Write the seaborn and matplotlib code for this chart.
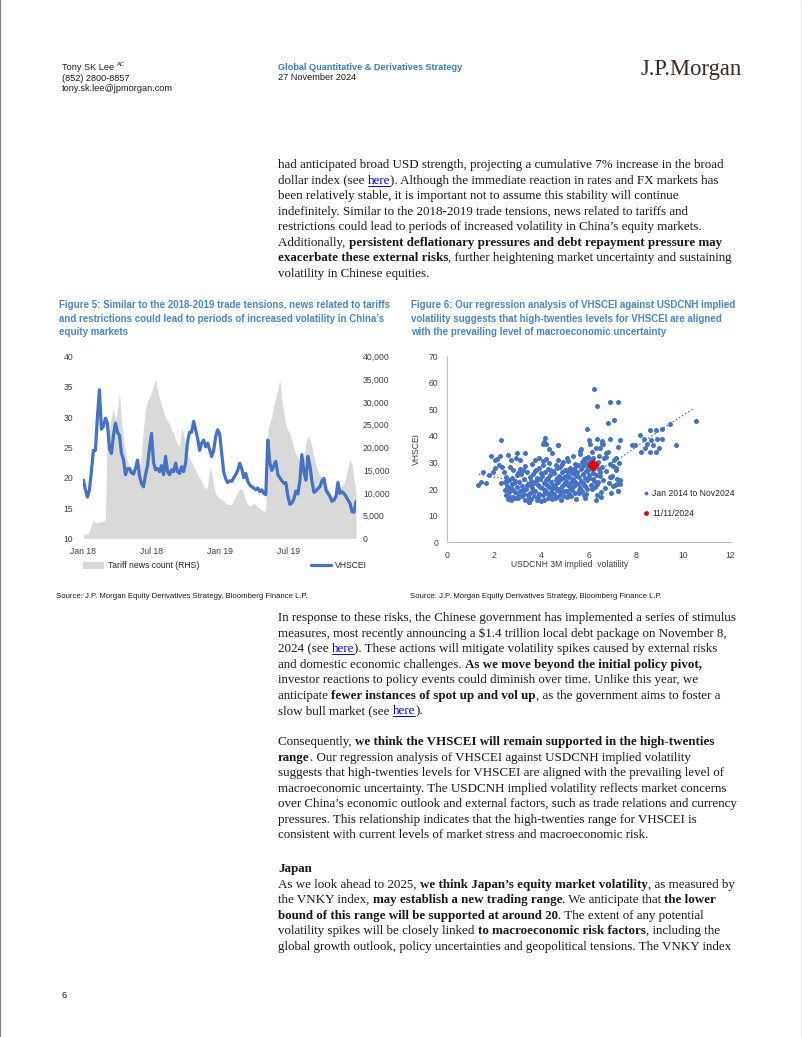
import matplotlib
matplotlib.use("Agg")
import matplotlib.pyplot as plt
import matplotlib.dates as mdates
import matplotlib.ticker as mticker
from matplotlib import font_manager
from matplotlib.lines import Line2D
from matplotlib.patches import Patch
import pandas as pd
import seaborn as sns

# ---------------- Figure 5 data ----------------
vhscei_daily = [19.6, 18.0, 16.8, 18.0, 21.0, 24.5, 24.5, 30.0, 34.5, 28.0, 28.5, 29.8, 29.0, 24.8,
                24.0, 27.0, 29.0, 27.5, 27.0, 24.0, 23.0, 20.5, 21.5, 21.5, 20.8, 20.6, 21.5, 22.9,
                20.3, 19.0, 18.5, 20.5, 22.0, 25.0, 27.3, 22.5, 21.3, 21.5, 21.0, 22.0, 20.5, 23.5,
                21.0, 20.5, 21.3, 21.0, 22.4, 21.0, 20.7, 21.8, 21.0, 22.5, 26.0, 27.5, 27.5, 29.3,
                27.9, 26.5, 24.5, 25.7, 26.2, 25.1, 25.7, 24.6, 23.5, 24.5, 26.8, 27.9, 27.2, 24.0,
                21.0, 19.8, 19.2, 19.5, 19.4, 20.0, 20.5, 21.2, 22.4, 21.5, 20.0, 20.7, 19.4, 18.8,
                18.5, 18.3, 18.0, 18.3, 17.7, 18.0, 17.4, 17.2, 26.2, 22.5, 21.2, 22.0, 22.7, 20.5,
                20.0, 19.5, 19.1, 19.2, 17.0, 15.6, 15.8, 16.5, 17.8, 17.3, 19.5, 23.8, 21.0, 19.6,
                23.5, 22.0, 19.5, 17.6, 17.8, 18.2, 18.5, 19.5, 19.9, 18.0, 17.4, 16.9, 16.1, 16.3,
                16.9, 19.2, 17.4, 17.7, 17.4, 16.9, 16.3, 15.8, 14.4, 14.3, 16.1]

tariff_news = [700, 900, 1000, 1500, 3000, 4000, 3500, 3300, 3600, 3700, 3700, 4000, 25000, 23500,
               27000, 28300, 26000, 28300, 32000, 26000, 21500, 19000, 17000, 16000, 15500, 15000,
               14800, 14800, 15500, 18500, 24500, 28500, 30300, 31000, 32300, 33500, 35000, 32300,
               30800, 29300, 27800, 26500, 25900, 25000, 23700, 23200, 21700, 20600, 20200, 24500,
               23000, 20000, 18500, 17500, 16800, 15800, 15000, 14000, 13200, 12500, 11400, 10700,
               11500, 15500, 14500, 11500, 9900, 9200, 8700, 8500, 8200, 7700, 7500, 7400, 7600,
               8300, 9200, 10200, 10800, 11000, 9700, 8400, 7500, 7100, 7300, 7700, 7400, 6800,
               6500, 6200, 5900, 6300, 23900, 25400, 26800, 29000, 31200, 32700, 35000, 30500,
               27500, 25000, 23800, 23000, 21500, 19800, 18500, 17800, 17000, 16300, 18000, 21000,
               22400, 21700, 20200, 18000, 15800, 14700, 13900, 13300, 12900, 12000, 11100, 10200,
               9400, 8800, 9800, 11000, 11200, 11600, 12100, 13500, 15500, 17500, 16000, 13000,
               10000]

fig5_xticks = ["2018-01-01", "2018-07-01", "2019-01-01", "2019-07-01"]

# ---------------- Figure 6 data ----------------
usdcnh_vol = [
    1.33, 1.47, 1.52, 1.68, 1.79, 1.86, 2.03, 2.13, 2.31, 2.24, 2.21, 2.35, 2.04, 1.96, 2.41, 2.52,
    2.45, 2.31, 2.59, 2.73, 2.95, 2.92, 3.09, 3.30, 2.66, 2.80, 3.02, 3.23, 3.48, 4.14, 4.07, 4.21, 4.71,
    2.45, 2.50, 2.55, 2.60, 2.62, 2.65, 2.70, 2.72, 2.75, 2.80, 2.85, 2.88, 2.90, 2.95, 3.00,
    2.52, 2.58, 2.66, 2.74, 2.82, 2.90, 2.98,
    3.02, 3.05, 3.10, 3.12, 3.18, 3.20, 3.25, 3.28, 3.30, 3.35, 3.38, 3.42, 3.45, 3.48, 3.50,
    3.08, 3.22, 3.32, 3.40, 3.46,
    3.52, 3.55, 3.58, 3.60, 3.62, 3.65, 3.68, 3.70, 3.72, 3.75, 3.78, 3.80, 3.82, 3.85, 3.88,
    3.90, 3.92, 3.95, 3.98, 4.00, 3.56, 3.64, 3.71, 3.79, 3.86, 3.94,
    4.02, 4.04, 4.06, 4.08, 4.10, 4.12, 4.14, 4.16, 4.18, 4.20, 4.22, 4.24, 4.26, 4.28, 4.30,
    4.32, 4.34, 4.36, 4.38, 4.40, 4.42, 4.44, 4.46, 4.48, 4.50, 4.05, 4.15, 4.25, 4.35, 4.45,
    4.11, 4.31,
    4.52, 4.54, 4.56, 4.58, 4.60, 4.62, 4.64, 4.66, 4.68, 4.70, 4.72, 4.74, 4.76, 4.78, 4.80,
    4.82, 4.84, 4.86, 4.88, 4.90, 4.92, 4.94, 4.96, 4.98, 5.00, 4.57, 4.67, 4.77, 4.87, 4.97, 4.71,
    5.02, 5.04, 5.06, 5.08, 5.10, 5.12, 5.14, 5.16, 5.18, 5.20, 5.22, 5.24, 5.26, 5.28, 5.30,
    5.32, 5.34, 5.36, 5.38, 5.40, 5.42, 5.44, 5.46, 5.48, 5.50, 5.07, 5.17, 5.27, 5.37, 5.47,
    5.52, 5.54, 5.56, 5.58, 5.60, 5.62, 5.64, 5.66, 5.68, 5.70, 5.72, 5.74, 5.76, 5.78, 5.80,
    5.82, 5.84, 5.86, 5.88, 5.90, 5.92, 5.94, 5.96, 5.98, 6.00, 5.57, 5.67, 5.77, 5.87, 5.97,
    5.63, 5.85,
    6.02, 6.05, 6.08, 6.10, 6.12, 6.15, 6.18, 6.20, 6.22, 6.25, 6.28, 6.30, 6.32, 6.35, 6.38,
    6.40, 6.42, 6.45, 6.48, 6.50, 6.07, 6.17, 6.27, 6.37, 6.47,
    6.55, 6.60, 6.65, 6.70, 6.75, 6.80, 6.85, 6.90, 6.95, 7.00, 7.05, 7.10, 7.15, 7.20, 7.25,
    6.58, 6.72, 6.88, 7.02, 7.18,
    6.22, 6.33, 6.89, 7.22, 7.06, 6.82, 10.52, 9.43, 9.68, 5.93, 7.84, 8.16, 8.58, 8.84, 9.08,
    8.33, 8.65, 8.89, 9.09, 8.47, 8.72, 8.98, 8.36, 8.58, 8.84, 8.19, 7.96, 6.92, 7.32, 7.24,
    7.15, 7.29, 7.17, 7.32, 7.34, 7.24, 7.03, 6.96, 6.75, 6.61, 6.47, 6.30, 6.54, 6.02, 5.88,
    6.35, 6.56,
]
vhscei_level = [
    21.6, 22.8, 26.5, 22.2, 25.3, 32.4, 30.9, 31.3, 38.3, 32.4, 29.0, 28.4, 27.8, 26.5, 26.5, 24.7,
    22.8, 22.2, 32.8, 30.9, 33.6, 31.5, 30.9, 33.4, 28.4, 27.2, 26.0, 27.2, 15.0, 39.3, 37.1, 37.1, 36.5,
    19.5, 17.8, 21.2, 16.3, 23.5, 18.9, 15.8, 20.4, 24.1, 17.1, 22.3, 19.0, 16.5, 25.2, 18.2,
    22.8, 20.1, 17.2, 21.9, 19.6, 23.1, 20.8,
    16.8, 22.6, 19.4, 25.8, 17.5, 21.0, 23.9, 18.3, 15.9, 20.2, 26.4, 17.9, 22.0, 15.1, 24.5,
    27.5, 19.8, 28.6, 21.5, 16.6,
    18.6, 23.1, 16.2, 29.4, 20.5, 25.7, 17.4, 22.2, 30.8, 19.1, 27.0, 16.0, 24.3, 21.4, 28.1,
    18.0, 31.5, 23.6, 15.7, 26.2, 21.0, 19.3, 26.8, 22.9, 17.0, 20.7,
    20.3, 24.8, 17.6, 28.9, 22.1, 15.8, 26.5, 19.7, 31.2, 23.3, 18.4, 21.7, 27.6, 16.5, 24.0,
    29.8, 20.9, 17.3, 25.4, 22.6, 19.0, 33.5, 16.2, 26.9, 21.3, 30.4, 18.9, 23.8, 27.2, 20.0,
    37.6, 35.2,
    18.1, 25.9, 21.4, 16.7, 29.1, 23.5, 19.6, 27.8, 17.2, 22.7, 31.0, 20.1, 25.0, 18.8, 28.4,
    16.0, 23.9, 21.1, 26.6, 19.3, 30.2, 24.6, 17.5, 22.4, 27.1, 20.6, 24.3, 17.9, 29.6, 21.8, 36.5,
    23.0, 19.4, 27.3, 16.9, 25.1, 21.6, 30.5, 18.2, 24.4, 28.0, 20.0, 22.8, 17.3, 26.1, 19.8,
    32.6, 23.7, 21.0, 27.7, 18.6, 25.5, 29.3, 16.4, 22.2, 24.9, 31.8, 26.8, 20.7, 23.2, 28.7,
    26.3, 21.9, 29.0, 18.5, 24.7, 33.1, 20.4, 27.5, 23.0, 30.2, 19.1, 25.8, 22.3, 28.6, 17.6,
    31.4, 24.1, 21.2, 26.9, 29.8, 20.0, 23.5, 32.0, 27.2, 25.3, 19.7, 35.0, 22.0, 18.0, 28.3,
    34.2, 16.8,
    24.2, 30.6, 21.5, 27.9, 33.8, 19.9, 26.0, 31.7, 23.1, 28.8, 20.6, 35.6, 25.2, 17.8, 30.1,
    22.7, 27.4, 32.3, 24.9, 19.0, 36.9, 23.6, 29.4, 21.9, 26.5,
    28.2, 23.4, 31.6, 20.5, 26.7, 33.9, 22.1, 29.3, 18.7, 25.0, 30.8, 21.6, 27.3, 23.8, 19.4,
    36.8, 32.0, 24.4, 28.6, 21.9,
    57.6, 51.1, 52.6, 52.9, 45.8, 44.8, 45.5, 44.3, 36.4, 42.4, 36.6, 40.5, 42.1, 42.1, 42.7,
    38.7, 38.6, 38.7, 39.0, 36.9, 36.5, 35.5, 35.5, 34.0, 33.9, 34.0, 36.7, 39.0, 38.3, 35.9,
    31.5, 29.7, 27.8, 23.5, 22.0, 19.1, 21.0, 24.7, 33.4, 37.1, 35.3, 16.0, 17.2, 38.3, 31.5,
    38.8, 38.1,
]
# dotted trend curve as drawn in the source chart
trend_vol = [1.37, 2.0, 2.6, 3.1, 3.6, 4.1, 4.6, 5.1, 5.6, 6.1, 6.54, 7.31, 8.01, 8.72, 9.43, 10.44]
trend_level = [25.6, 24.5, 23.6, 23.0, 22.8, 22.9, 23.4, 24.1, 25.1, 26.4, 27.8, 31.5, 35.9, 40.3, 44.6, 50.2]
latest_vol = [6.2]
latest_level = [29.2]

# ---------------- page text ----------------
fig5_caption = ["Figure 5: Similar to the 2018-2019 trade tensions, news related to tariffs",
                "and restrictions could lead to periods of increased volatility in China\u2019s",
                "equity markets"]
fig6_caption = ["Figure 6: Our regression analysis of VHSCEI against USDCNH implied",
                "volatility suggests that high-twenties levels for VHSCEI are aligned",
                "with the prevailing level of macroeconomic uncertainty"]
source_text = "Source: J.P. Morgan Equity Derivatives Strategy, Bloomberg Finance L.P."

para1 = [
    [("had anticipated broad USD strength, projecting a cumulative 7% increase in the broad", "n")],
    [("dollar index (see ", "n"), ("here", "l"), ("). Although the immediate reaction in rates and FX markets has", "n")],
    [("been relatively stable, it is important not to assume this stability will continue", "n")],
    [("indefinitely. Similar to the 2018-2019 trade tensions, news related to tariffs and", "n")],
    [("restrictions could lead to periods of increased volatility in China\u2019s equity markets.", "n")],
    [("Additionally, ", "n"), ("persistent deflationary pressures and debt repayment pressure may", "b")],
    [("exacerbate these external risks", "b"), (", further heightening market uncertainty and sustaining", "n")],
    [("volatility in Chinese equities.", "n")],
]
para2 = [
    [("In response to these risks, the Chinese government has implemented a series of stimulus", "n")],
    [("measures, most recently announcing a $1.4 trillion local debt package on November 8,", "n")],
    [("2024 (see ", "n"), ("here", "l"), ("). These actions will mitigate volatility spikes caused by external risks", "n")],
    [("and domestic economic challenges. ", "n"), ("As we move beyond the initial policy pivot,", "b")],
    [("investor reactions to policy events could diminish over time. Unlike this year, we", "n")],
    [("anticipate ", "n"), ("fewer instances of spot up and vol up", "b"), (", as the government aims to foster a", "n")],
    [("slow bull market (see ", "n"), ("here", "l"), (").", "n")],
]
para3 = [
    [("Consequently, ", "n"), ("we think the VHSCEI will remain supported in the high-twenties", "b")],
    [("range", "b"), (". Our regression analysis of VHSCEI against USDCNH implied volatility", "n")],
    [("suggests that high-twenties levels for VHSCEI are aligned with the prevailing level of", "n")],
    [("macroeconomic uncertainty. The USDCNH implied volatility reflects market concerns", "n")],
    [("over China\u2019s economic outlook and external factors, such as trade relations and currency", "n")],
    [("pressures. This relationship indicates that the high-twenties range for VHSCEI is", "n")],
    [("consistent with current levels of market stress and macroeconomic risk.", "n")],
]
para4 = [
    [("Japan", "b")],
    [("As we look ahead to 2025, ", "n"), ("we think Japan\u2019s equity market volatility", "b"), (", as measured by", "n")],
    [("the VNKY index, ", "n"), ("may establish a new trading range", "b"), (". We anticipate that ", "n"), ("the lower", "b")],
    [("bound of this range will be supported at around 20", "b"), (". The extent of any potential", "n")],
    [("volatility spikes will be closely linked ", "n"), ("to macroeconomic risk factors", "b"), (", including the", "n")],
    [("global growth outlook, policy uncertainties and geopolitical tensions. The VNKY index", "n")],
]

# ---------------- styling ----------------
sns.set_style("white")
names = {f.name for f in font_manager.fontManager.ttflist}
NARROW = "Liberation Sans Narrow" in names
SANS = "Liberation Sans Narrow" if NARROW else "Liberation Sans"
k = 1.0 if NARROW else 0.82
plt.rcParams["font.family"] = [SANS, "DejaVu Sans"]

BLUE = "#4472c4"
CAP_BLUE = "#4a86c6"
TXT = "#1a1a1a"
TICK = "#404040"
tick_fs = 7.6 * k

W, H = 802, 1037
fig = plt.figure(figsize=(W / 100, H / 100), dpi=100)
R = fig.canvas.get_renderer()


def fx(x):
    return x / W


def fy(y):
    return 1 - y / H


def width_of(s, **kw):
    t = fig.text(0, 0, "|" + s + "|", **kw)
    t2 = fig.text(0, 0, "||", **kw)
    w = t.get_window_extent(R).width - t2.get_window_extent(R).width
    t.remove()
    t2.remove()
    return w


def fit_size(s, target, base=10, **kw):
    return base * target / width_of(s, fontsize=base, **kw)


SERIF = "Liberation Serif"
body_fs = fit_size(para1[0][0][0], 450, family=SERIF)


def draw_line(x, y, runs):
    cur = x
    for txt, st in runs:
        kw = dict(fontsize=body_fs, family=SERIF,
                  fontweight="bold" if st == "b" else "normal")
        col = "#0000ee" if st == "l" else TXT
        fig.text(fx(cur), fy(y), txt, color=col, va="baseline", ha="left", **kw)
        w = width_of(txt, **kw)
        if st == "l":
            fig.add_artist(Line2D([fx(cur), fx(cur + w)], [fy(y + 2)] * 2, color=col, lw=0.7))
        cur += w


def draw_para(lines, y0, step=15.55):
    for i, runs in enumerate(lines):
        draw_line(278, y0 + i * step, runs)


draw_para(para1, 168)
draw_para(para2, 621)
draw_para(para3, 745)
draw_para(para4, 872)

# ---------------- header ----------------
hdr_fs = fit_size("tony.sk.lee@jpmorgan.com", 110, family="Liberation Sans")
fig.text(fx(62), fy(70.5), "Tony SK Lee", fontsize=hdr_fs, family="Liberation Sans", color=TXT, va="baseline")
fig.text(fx(62 + width_of("Tony SK Lee ", fontsize=hdr_fs, family="Liberation Sans")), fy(66),
         "AC", fontsize=hdr_fs * 0.65, family="Liberation Sans", color=TXT, va="baseline")
fig.text(fx(62), fy(80.8), "(852) 2800-8857", fontsize=hdr_fs, family="Liberation Sans", color=TXT, va="baseline")
fig.text(fx(62), fy(91.1), "tony.sk.lee@jpmorgan.com", fontsize=hdr_fs, family="Liberation Sans", color=TXT, va="baseline")
gs = fit_size("Global Quantitative & Derivatives Strategy", 183, family="Liberation Sans", fontweight="bold")
fig.text(fx(278), fy(69.5), "Global Quantitative & Derivatives Strategy", fontsize=gs, family="Liberation Sans",
         fontweight="bold", color="#3d7abb", va="baseline")
fig.text(fx(278), fy(79.8), "27 November 2024", fontsize=hdr_fs, family="Liberation Sans", color=TXT, va="baseline")
logo_fs = fit_size("J.P.Morgan", 101, family=SERIF)
fig.text(fx(641), fy(75), "J.P.Morgan", fontsize=logo_fs, family=SERIF, color="#3a2a22", va="baseline")
fig.text(fx(62), fy(998.5), "6", fontsize=hdr_fs, family="Liberation Sans", color=TXT, va="baseline")

# page frame
fig.add_artist(Line2D([0.0006, 0.0006], [0, 1], color="#8c8c8c", lw=1))
fig.add_artist(Line2D([0.9994, 0.9994], [0, 1], color="#8c8c8c", lw=1))

# ---------------- captions and sources ----------------
cap_fs = fit_size(fig5_caption[0], 330, family=SANS, fontweight="bold")
for i, line in enumerate(fig5_caption):
    fig.text(fx(59), fy(308.5 + i * 13.3), line, fontsize=cap_fs, family=SANS, fontweight="bold",
             color=CAP_BLUE, va="baseline")
for i, line in enumerate(fig6_caption):
    fig.text(fx(411), fy(308.5 + i * 13.3), line, fontsize=cap_fs, family=SANS, fontweight="bold",
             color=CAP_BLUE, va="baseline")
src_fs = fit_size(source_text, 252, family=SANS)
fig.text(fx(56), fy(597.5), source_text, fontsize=src_fs, family=SANS, color=TXT, va="baseline")
fig.text(fx(410), fy(597.5), source_text, fontsize=src_fs, family=SANS, color=TXT, va="baseline")

# ---------------- Figure 5: VHSCEI vs tariff news ----------------
d_v = pd.date_range("2018-01-02", "2019-12-28", periods=len(vhscei_daily))
d_t = pd.date_range("2018-01-02", "2019-12-28", periods=len(tariff_news))
x0, x1 = d_v[0], d_v[-1]

ax = fig.add_axes([fx(83), fy(538.3), (356 - 83) / W, (538.3 - 356.5) / H])
ax2 = ax.twinx()
ax2.fill_between(d_t, tariff_news, 0, color="#d9d9d9", lw=0)
sns.lineplot(x=d_v, y=vhscei_daily, ax=ax, color=BLUE, lw=2.3)
ax.set_zorder(ax2.get_zorder() + 1)
ax.patch.set_visible(False)

ax.set_xlim(x0, x1)
ax.set_ylim(10, 40)
ax2.set_ylim(0, 40000)
ax.set_yticks(range(10, 41, 5))
ax2.set_yticks(range(0, 40001, 5000))
ax2.yaxis.set_major_formatter(mticker.FuncFormatter(lambda v, _: f"{int(v):,}"))
ax.set_xticks(pd.to_datetime(fig5_xticks))
ax.xaxis.set_major_formatter(mdates.DateFormatter("%b %y"))
for a in (ax, ax2):
    for s in a.spines.values():
        s.set_visible(False)
    a.tick_params(length=0, labelsize=tick_fs, labelcolor=TICK)
ax.tick_params(axis="y", pad=7)
ax2.tick_params(axis="y", pad=5)
ax.tick_params(axis="x", pad=6)
ax.set_xlabel("")
ax.set_ylabel("")

fig.legend(handles=[Patch(facecolor="#d9d9d9", edgecolor="none"), Line2D([], [], color=BLUE, lw=2.3)],
           labels=["Tariff news count (RHS)", "VHSCEI"], loc="center left",
           bbox_to_anchor=(fx(83), fy(566)), ncol=2, frameon=False, fontsize=tick_fs,
           handlelength=2.4, handleheight=0.8, handletextpad=0.45, columnspacing=12.9,
           borderpad=0, borderaxespad=0)

# ---------------- Figure 6: VHSCEI vs USDCNH vol ----------------
bx = fig.add_axes([fx(446.7), fy(542.3), (730.7 - 446.7) / W, (542.3 - 356) / H])
sns.scatterplot(x=usdcnh_vol, y=vhscei_level, ax=bx, color=BLUE, s=13, linewidth=0, zorder=2)
sns.lineplot(x=trend_vol, y=trend_level, ax=bx, color=BLUE, lw=1.0, ls=":", zorder=3)
bx.scatter(latest_vol, latest_level, marker="D", s=42, color="#e00000", zorder=4, linewidths=0)
bx.set_xlim(0, 12)
bx.set_ylim(0, 70)
bx.set_xticks(range(0, 13, 2))
bx.set_yticks(range(0, 71, 10))
for s in ("top", "right"):
    bx.spines[s].set_visible(False)
for s in ("left", "bottom"):
    bx.spines[s].set_color("#c0c0c0")
    bx.spines[s].set_linewidth(0.8)
bx.tick_params(length=3, width=0.6, color="#c0c0c0", labelsize=tick_fs, labelcolor=TICK, pad=3)
bx.set_ylabel("VHSCEI", fontsize=tick_fs, color=TICK)
bx.yaxis.set_label_coords((421 - 446.7) / 284, 0.5)
bx.set_xlabel("USDCNH 3M implied  volatility", fontsize=tick_fs, color=TICK)
bx.xaxis.set_label_coords((570 - 446.7) / 284, -(560 - 542.3) / 186.3)

fig.legend(handles=[Line2D([], [], ls="", marker="o", ms=2.8, color=BLUE, mec="none"),
                    Line2D([], [], ls="", marker="o", ms=3.4, color="#e00000", mec="none")],
           labels=["Jan 2014 to Nov2024", "11/11/2024"], loc="upper left",
           bbox_to_anchor=(fx(643), fy(489)), frameon=False, fontsize=tick_fs,
           handlelength=0.7, handletextpad=0.35, labelspacing=1.25, borderpad=0, borderaxespad=0)

fig.savefig("out.png", dpi=100, facecolor="white")
